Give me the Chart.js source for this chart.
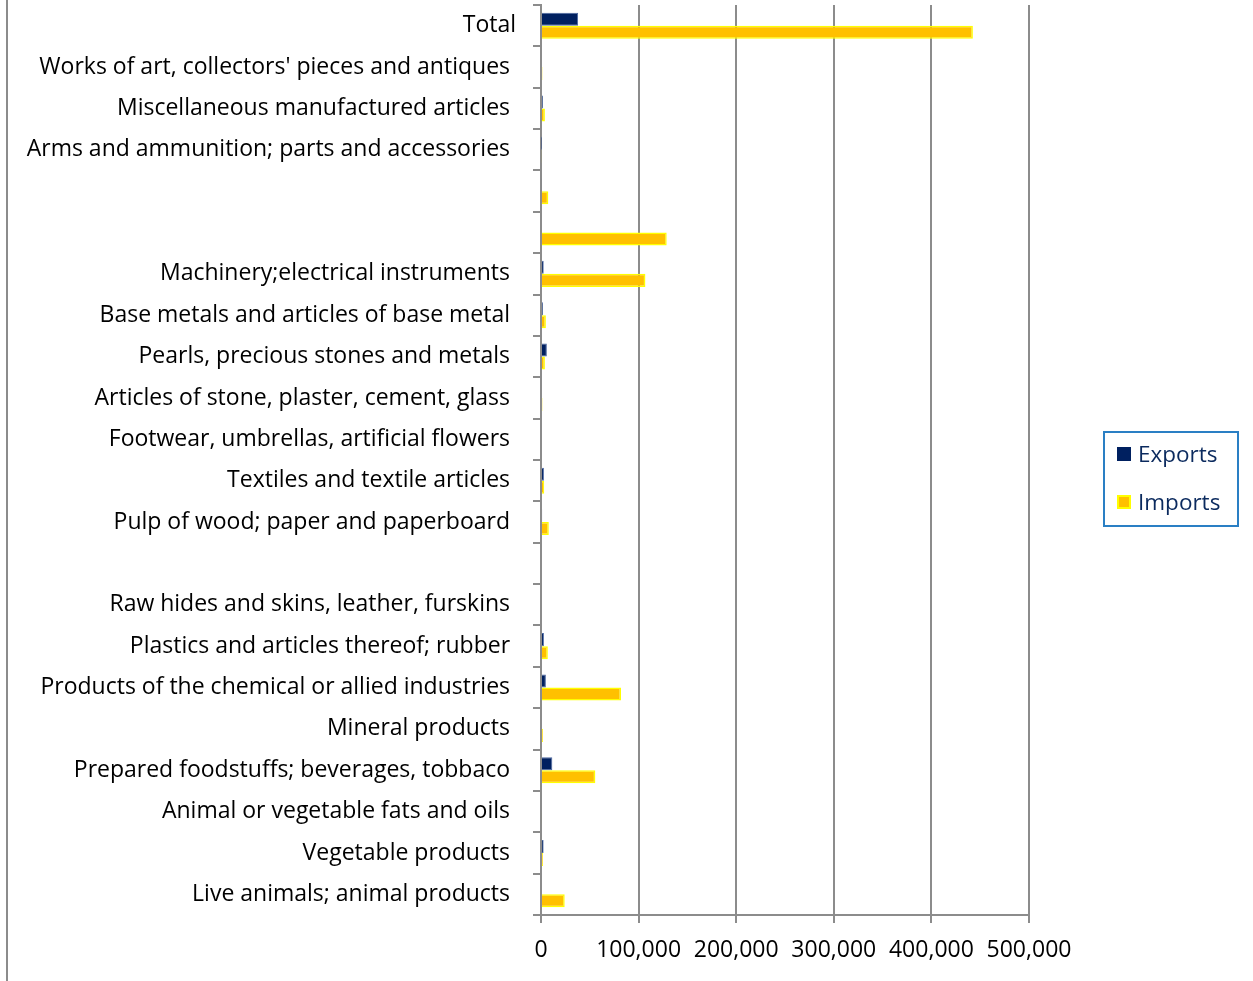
<!DOCTYPE html>
<html>
<head>
<meta charset="utf-8">
<script src="https://cdn.jsdelivr.net/npm/chart.js@4"></script>
<style>
  html, body { margin: 0; padding: 0; background: #fff; }
  #wrap { position: relative; width: 1253px; height: 981px; }
  #leftLine { position: absolute; left: 6px; top: 0; width: 2px; height: 981px; background: #8c8c8c; }
  #legend {
    position: absolute; left: 1103px; top: 431px; width: 132px; height: 92px;
    border: 2px solid #2a7fc4; font-family: "Open Sans", sans-serif; font-size: 22.5px; color: #0b2a5e;
  }
  #legend .item { position: absolute; left: 12px; display: flex; align-items: center; }
  #legend .sw { width: 14px; height: 14px; margin-right: 7px; box-sizing: border-box; }
</style>
</head>
<body>
<div id="wrap">
  <canvas id="chart" width="1253" height="981"></canvas>
  <div id="leftLine"></div>
  <div id="legend">
    <div class="item" style="top:5px"><div class="sw" style="background:#002060"></div>Exports</div>
    <div class="item" style="top:53px"><div class="sw" style="background:#ffc000;border:2px solid #ffff00"></div>Imports</div>
  </div>
</div>
<script>
// categories, top to bottom (blank ones have no label in the source)
const categories = [
    "Total",
    "Works of art, collectors' pieces and antiques ",
    "Miscellaneous manufactured articles ",
    "Arms and ammunition; parts and accessories ",
    "",
    "",
    "Machinery;electrical instruments ",
    "Base metals and articles of base metal ",
    "Pearls, precious stones and metals ",
    "Articles of stone, plaster, cement, glass ",
    "Footwear, umbrellas, artificial flowers ",
    "Textiles and textile articles ",
    "Pulp of wood; paper and paperboard ",
    "",
    "Raw hides and skins, leather, furskins ",
    "Plastics and articles thereof; rubber ",
    "Products of the chemical or allied industries ",
    "Mineral products ",
    "Prepared foodstuffs; beverages, tobbaco ",
    "Animal or vegetable fats and oils ",
    "Vegetable products ",
    "Live animals; animal products "
];
const exportsData = [38000, 900, 2000, 300, 900, 1000, 2800, 2000, 6000, 1000, 1000, 3000, 1200, 1000, 1000, 3000, 5000, 1000, 11600, 1000, 2700, 1000];
const importsData = [442500, 1500, 4000, 800, 7500, 128800, 107000, 5000, 4000, 1500, 1000, 3300, 8000, 1000, 1000, 7000, 82000, 2000, 55700, 900, 2000, 24300];
const xTicks = [0, 100000, 200000, 300000, 400000, 500000];

const FONT = "'Open Sans', sans-serif";
const GRID = "#8c8c8c";

const ctx = document.getElementById("chart").getContext("2d");
new Chart(ctx, {
    type: "bar",
    data: {
        labels: categories,
        datasets: [
            { label: "Exports", data: exportsData, backgroundColor: "#002060", borderColor: "#4a66a0", borderWidth: 1 },
            { label: "Imports", data: importsData, backgroundColor: "#ffc000", borderColor: "#ffff00", borderWidth: 1.5 }
        ]
    },
    options: {
        indexAxis: "y",
        responsive: false,
        animation: false,
        categoryPercentage: 0.63,
        barPercentage: 1.0,
        layout: { padding: { top: 5, right: 224, left: 0, bottom: 0 } },
        plugins: { legend: { display: false }, tooltip: { enabled: false } },
        scales: {
            x: {
                min: 0, max: 500000,
                afterBuildTicks: function(scale) { scale.ticks = xTicks.map(v => ({ value: v })); },
                afterFit: function(scale) { scale.height = 66; scale.paddingLeft = 0; scale.paddingRight = 0; },
                grid: { color: GRID, lineWidth: 2, tickLength: 8, drawTicks: true },
                border: { color: GRID, width: 2 },
                ticks: {
                    color: "#000", padding: 14, font: { family: FONT, size: 23 },
                    callback: v => v.toLocaleString("en-US")
                }
            },
            y: {
                afterFit: function(scale) { scale.width = 541; scale.paddingTop = 0; scale.paddingBottom = 0; },
                grid: { offset: true, drawOnChartArea: false, color: GRID, lineWidth: 2, tickLength: 8 },
                border: { color: GRID, width: 2 },
                ticks: { color: "#000", padding: 17, autoSkip: false, font: { family: FONT, size: 23 } }
            }
        }
    }
});
</script>
</body>
</html>
